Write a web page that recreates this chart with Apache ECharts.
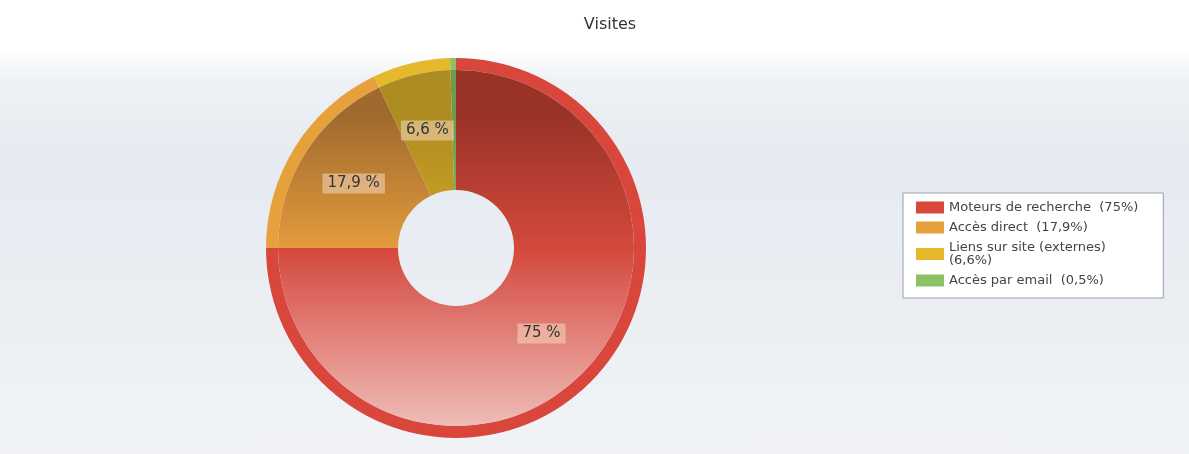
<!DOCTYPE html>
<html>
<head>
<meta charset="utf-8">
<script src="https://cdn.jsdelivr.net/npm/echarts@6/dist/echarts.min.js"></script>
<style>
  html, body { margin: 0; padding: 0; }
  body {
    width: 1189px; height: 454px;
    background: linear-gradient(to bottom, #ffffff 0%, #ffffff 11%, #eef1f5 18%, #e6ebf1 35%, #ebeff4 70%, #f1f3f7 100%);
  }
  #chart { width: 1189px; height: 454px; }
</style>
</head>
<body>
<div id="chart"></div>
<script>
// données
const categories = ['Moteurs de recherche', 'Accès direct', 'Liens sur site (externes)', 'Accès par email'];
const values = [75, 17.9, 6.6, 0.5];
const legendText = [
  'Moteurs de recherche  (75%)',
  'Accès direct  (17,9%)',
  'Liens sur site (externes)\n(6,6%)',
  'Accès par email  (0,5%)'
];

// couleurs : bord, haut (sombre), milieu, bas (clair)
const rimColors = ['#d9473c', '#e6a03c', '#e6b82c', '#8cc263'];
const topColors = ['#9a3327', '#a06a2e', '#ad8c22', '#6f9a4a'];
const midColors = ['#d4483d', '#e39b3c', '#d0a424', '#86bb5e'];
const lowColors = ['#f0c4c0', '#f0c080', '#f0d070', '#b8e09a'];

const cx = 456, cy = 248;

function fmt(v) {
  return String(v).replace('.', ',');
}

const chart = echarts.init(document.getElementById('chart'));

const option = {
  backgroundColor: 'transparent',
  animation: false,
  title: {
    text: 'Visites',
    left: 605,
    top: 12,
    textAlign: 'center',
    textStyle: { fontFamily: 'DejaVu Sans', fontSize: 16, fontWeight: 'normal', color: '#333' }
  },
  legend: {
    orient: 'vertical',
    left: 903,
    top: 193,
    padding: [8, 25, 11, 13],
    backgroundColor: '#ffffff',
    borderColor: '#9aa0a8',
    borderWidth: 1,
    borderRadius: 0,
    itemWidth: 28,
    itemHeight: 12,
    itemGap: 7,
    icon: 'rect',
    data: categories,
    formatter: function (name) {
      return legendText[categories.indexOf(name)];
    },
    textStyle: { fontFamily: 'DejaVu Sans', fontSize: 13, color: '#444', lineHeight: 13 }
  },
  series: [
    {
      // anneau extérieur
      type: 'pie',
      center: [cx, cy],
      radius: [178, 190],
      startAngle: 90,
      clockwise: true,
      silent: true,
      label: { show: false },
      labelLine: { show: false },
      data: categories.map((n, i) => ({
        name: n,
        value: values[i],
        itemStyle: { color: rimColors[i] }
      }))
    },
    {
      type: 'pie',
      center: [cx, cy],
      radius: [58, 178],
      startAngle: 90,
      clockwise: true,
      label: {
        show: true,
        position: 'inside',
        formatter: p => fmt(p.value) + ' %',
        fontFamily: 'DejaVu Sans',
        fontSize: 15,
        color: '#333',
        backgroundColor: 'rgba(245, 215, 190, 0.55)',
        padding: [3, 5, 2, 5]
      },
      labelLine: { show: false },
      data: categories.map((n, i) => ({
        name: n,
        value: values[i],
        label: { show: values[i] >= 1 },
        itemStyle: {
          color: new echarts.graphic.LinearGradient(0, cy - 190, 0, cy + 190, [
            { offset: 0, color: topColors[i] },
            { offset: 0.15, color: topColors[i] },
            { offset: 0.5, color: midColors[i] },
            { offset: 1, color: lowColors[i] }
          ], true)
        }
      }))
    }
  ]
};

chart.setOption(option);
</script>
</body>
</html>
